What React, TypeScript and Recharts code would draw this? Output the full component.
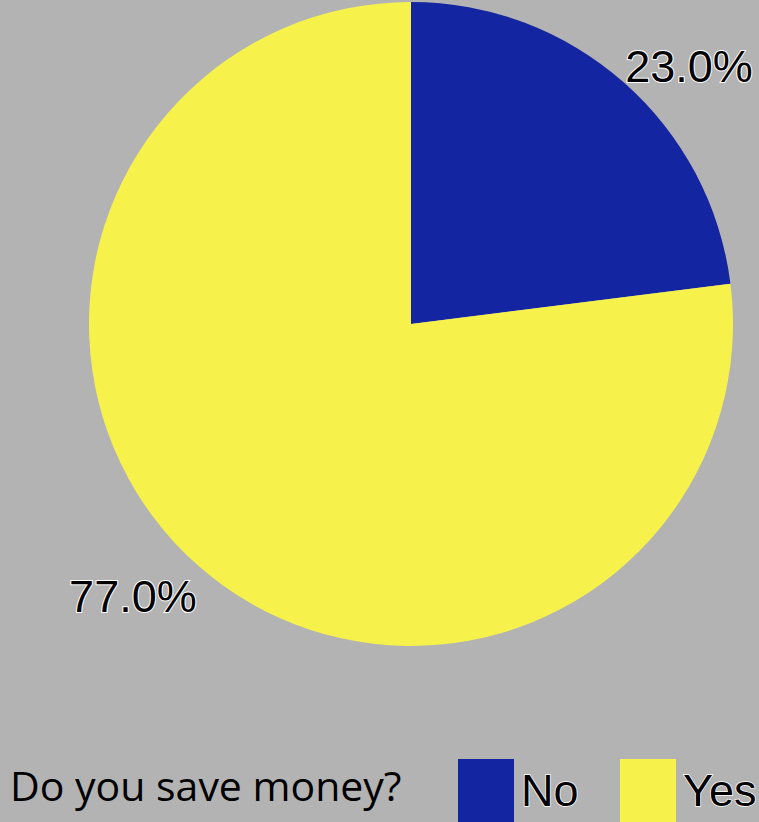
import React from "react";
import { PieChart, Pie, Cell, Legend } from "recharts";

const categories = ["No", "Yes"];
const values = [23.0, 77.0];
const colors = ["#1425a1", "#f7f24b"];
const title = "Do you save money?";

const data = categories.map((name, i) => ({ name, value: values[i] }));

const RAD = Math.PI / 180;

const renderLabel = (props: any) => {
  const { cx, cy, midAngle, outerRadius, percent } = props;
  const a = (midAngle - 5) * RAD;
  const r = outerRadius + 62;
  const x = cx + r * Math.cos(a);
  const y = cy - r * Math.sin(a) + 23;
  return (
    <text
      x={x}
      y={y}
      textAnchor="middle"
      fontFamily="Liberation Sans, Arial, sans-serif"
      fontSize={45}
      fill="#000"
      stroke="#ffffff"
      strokeWidth={2}
      paintOrder="stroke"
    >
      {(percent * 100).toFixed(1) + "%"}
    </text>
  );
};

const renderLegend = (props: any) => {
  const payload = props.payload || [];
  const itemX = [458, 620];
  return (
    <svg width={759} height={82} style={{ display: "block" }}>
      <text
        x={10}
        y={61}
        fontFamily="Open Sans, sans-serif"
        fontSize={41}
        fill="#000"
      >
        {title}
      </text>
      {payload.map((p: any, i: number) => (
        <g key={p.value}>
          <rect x={itemX[i]} y={19} width={56} height={63} fill={p.color} />
          <text
            x={itemX[i] + 63}
            y={66}
            fontFamily="Liberation Sans, Arial, sans-serif"
            fontSize={45}
            fill="#000"
            stroke="#ffffff"
            strokeWidth={1.5}
            paintOrder="stroke"
          >
            {p.value}
          </text>
        </g>
      ))}
    </svg>
  );
};

export default function App() {
  return (
    <div
      style={{
        position: "absolute",
        left: 0,
        top: 0,
        width: 759,
        height: 822,
        background: "#b3b3b3",
        overflow: "hidden",
      }}
    >
      <PieChart width={759} height={822} margin={{ top: 0, right: 0, bottom: 0, left: 0 }}>
        <Pie
          data={data}
          dataKey="value"
          nameKey="name"
          cx={411}
          cy={324}
          outerRadius={322}
          startAngle={90}
          endAngle={-270}
          stroke="none"
          label={renderLabel}
          labelLine={false}
          isAnimationActive={false}
        >
          {data.map((d, i) => (
            <Cell key={d.name} fill={colors[i]} />
          ))}
        </Pie>
        <Legend
          content={renderLegend}
          wrapperStyle={{ position: "absolute", left: 0, top: 740, width: 759, height: 82 }}
        />
      </PieChart>
    </div>
  );
}
